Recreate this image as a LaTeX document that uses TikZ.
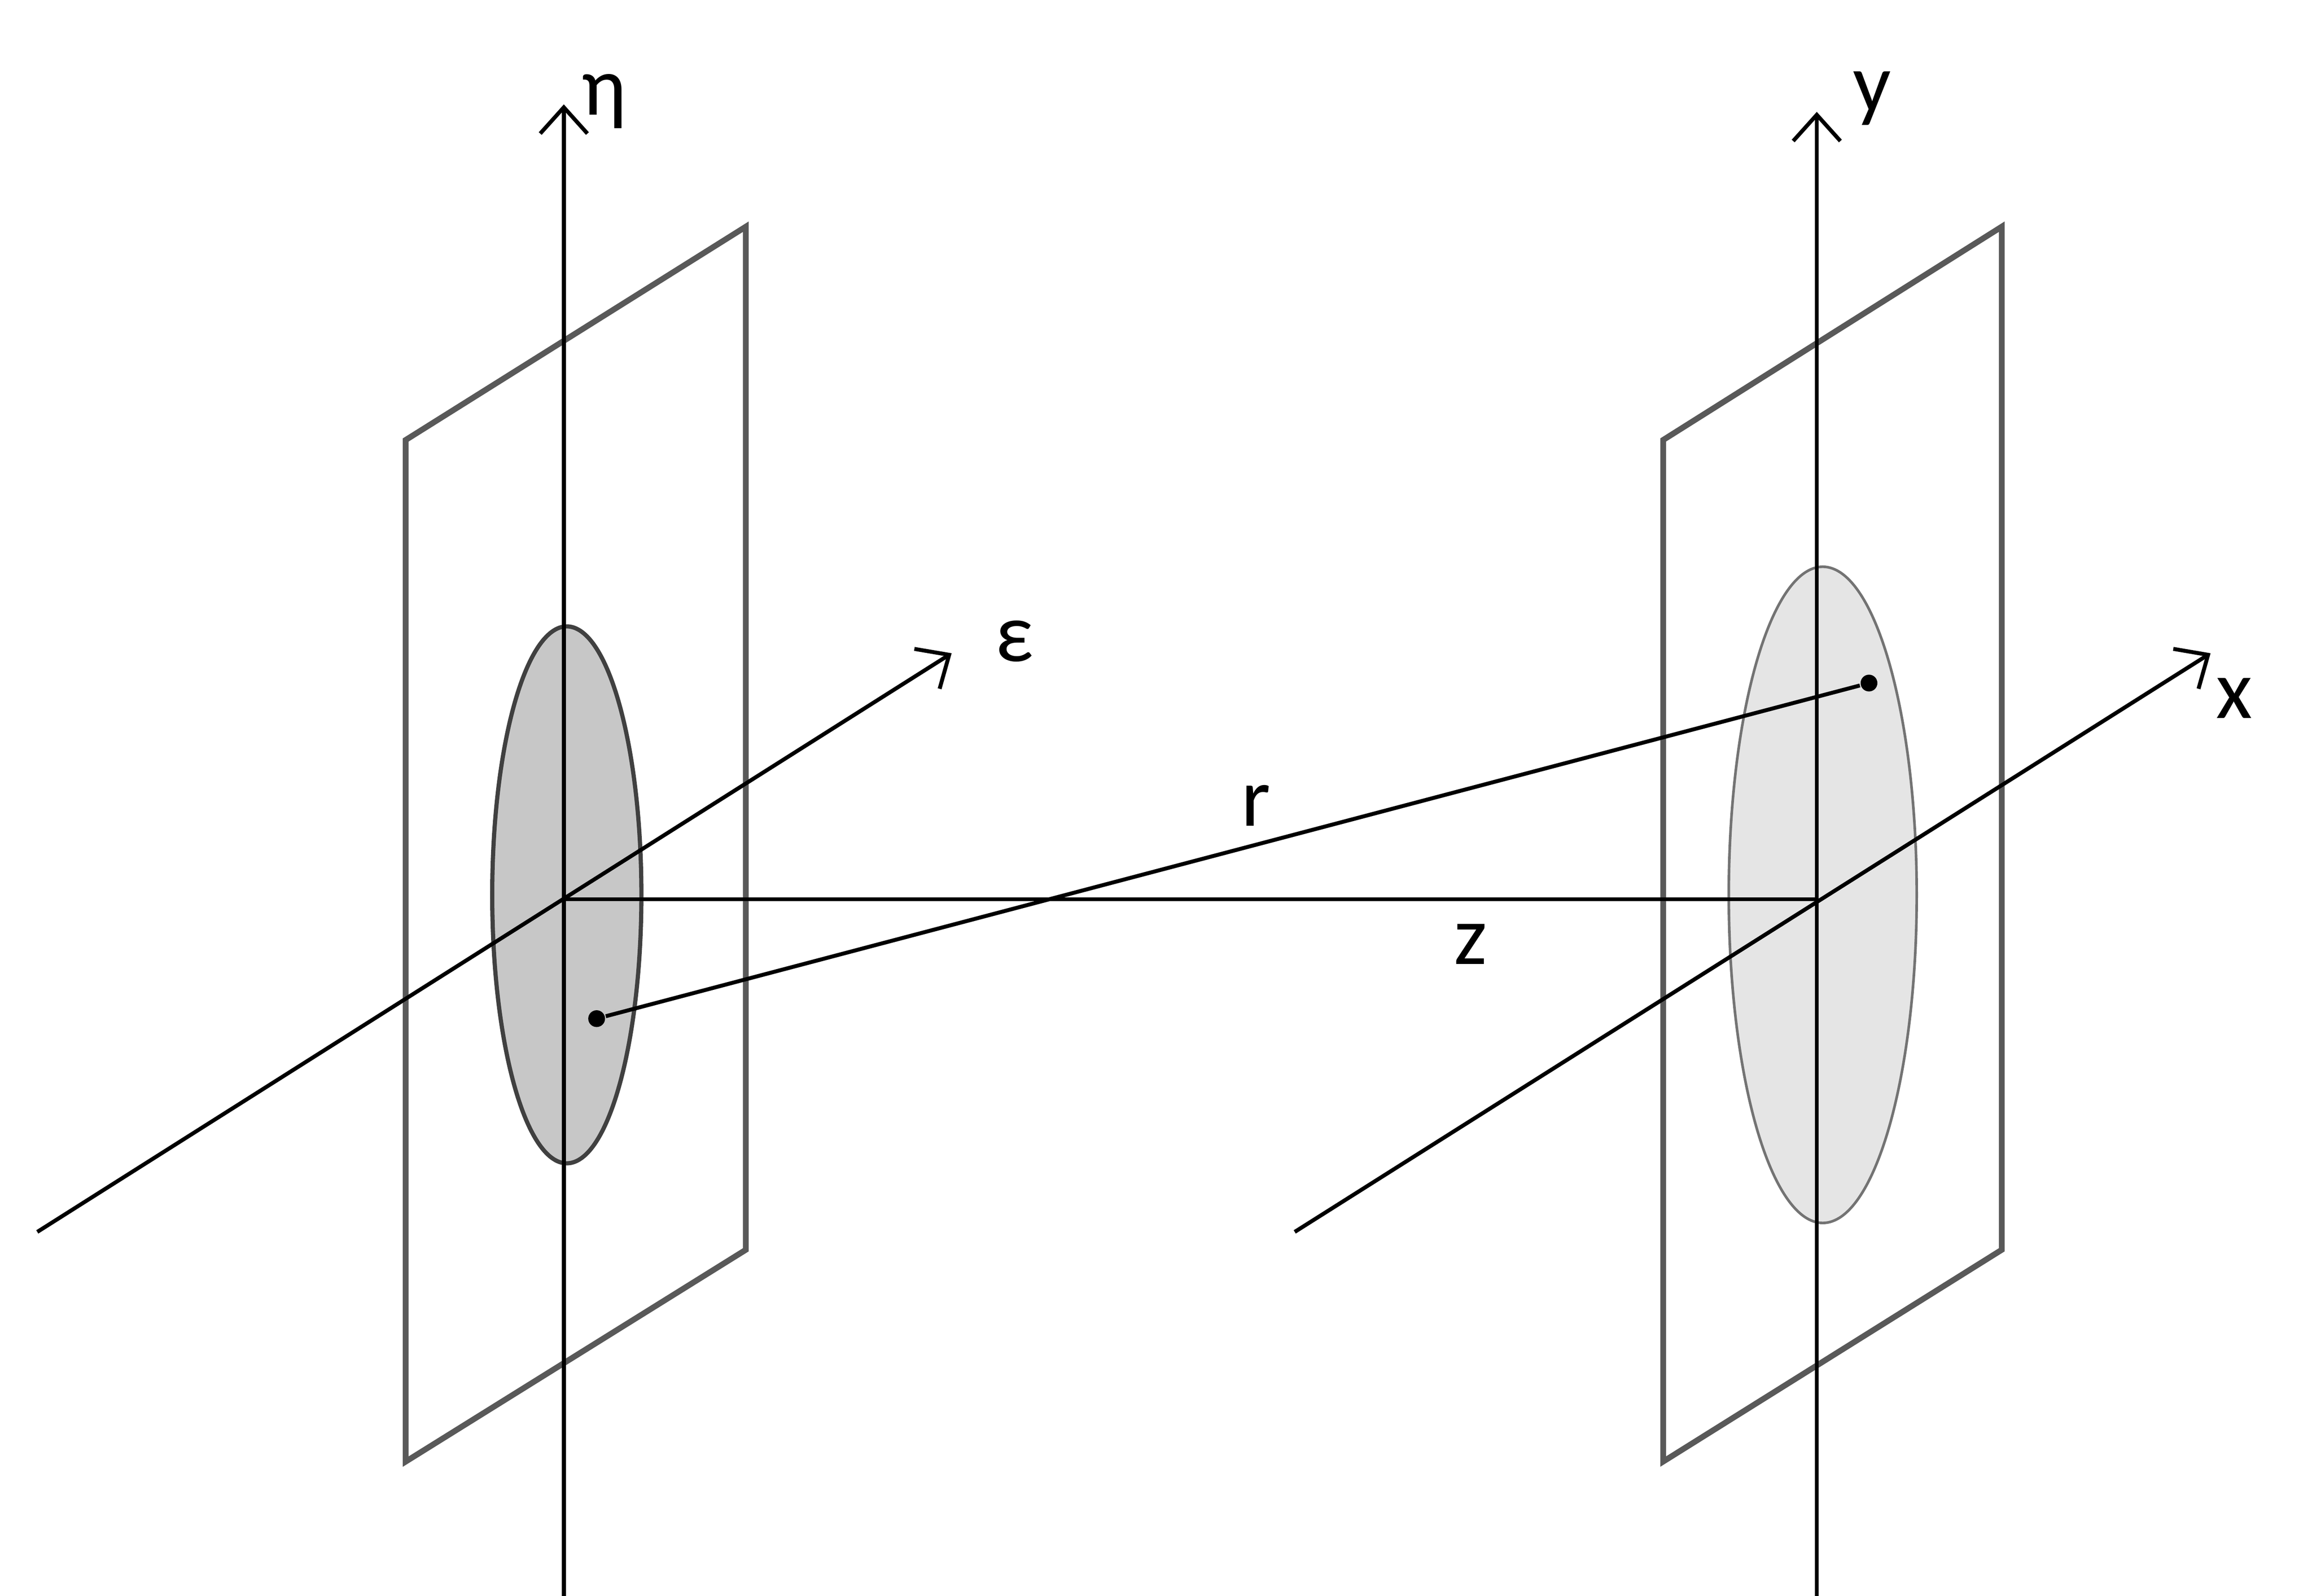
\documentclass[tikz,border=0pt]{standalone}
\usepackage{fontspec}
\setmainfont{Carlito}
\usetikzlibrary{arrows.meta}
\begin{document}
\begin{tikzpicture}[x=0.01cm,y=-0.01cm,
  plane/.style={draw=black!65,line width=1.1pt},
  axis/.style={draw=black,line width=0.75pt},
  arr/.style={axis,-{Straight Barb[length=5pt,width=9pt]}},
  lbl/.style={font=\fontsize{16}{19}\selectfont,inner sep=0pt},
  dotn/.style={circle,fill=black,inner sep=0pt,minimum size=3.2pt}]
\useasboundingbox (0,0) rectangle (1550,1070);
% planes
\draw[plane] (272,295) -- (500,152) -- (500,838) -- (272,980) -- cycle;
\draw[plane] (1115,295) -- (1342,152) -- (1342,838) -- (1115,980) -- cycle;
% ellipses
\draw[fill=black!22,draw=black!75,line width=0.8pt] (380,600) ellipse [x radius=50,y radius=180];
\draw[fill=black!10,draw=black!55,line width=0.5pt] (1222,600) ellipse [x radius=63,y radius=220];
% coordinates
\coordinate (O1) at (378,603);
\coordinate (O2) at (1218,603);
\coordinate (etab) at (378,1075);
\coordinate (etat) at (378,70);
\coordinate (yb) at (1218,1080);
\coordinate (yt) at (1218,75);
\coordinate (eb) at (25,826);
\coordinate (et) at (638,438);
\coordinate (xb) at (868,826);
\coordinate (xt) at (1482,438);
\node[dotn] (P1) at (400,683) {};
\node[dotn] (P2) at (1253,458) {};
% axes
\draw[arr] (etab) -- (etat);
\draw[arr] (yb) -- (yt);
\draw[arr] (eb) -- (et);
\draw[arr] (xb) -- (xt);
\draw[axis] (O1) -- (O2);
\draw[axis] (P1) -- (P2);
% labels
\node[lbl] (leta) at (405,68) {η};
\node[lbl] (ly) at (1255,66) {y};
\node[lbl] (leps) at (680,430) {ε};
\node[lbl] (lx) at (1498,468) {x};
\node[lbl] (lz) at (986,633) {z};
\node[lbl] (lr) at (842,540) {r};
\end{tikzpicture}
\end{document}
